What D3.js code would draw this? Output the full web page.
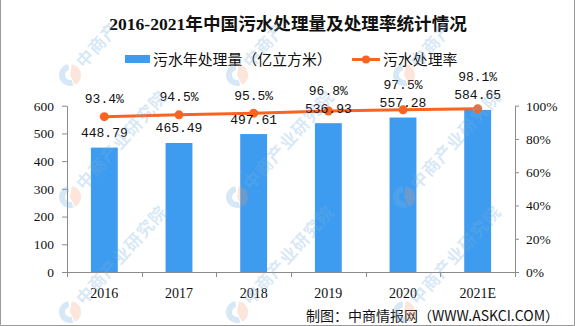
<!DOCTYPE html>
<html>
<head>
<meta charset="utf-8">
<script src="https://cdn.jsdelivr.net/npm/d3@7"></script>
<style>
  html, body { margin: 0; padding: 0; background: #fff; }
  svg { display: block; }
</style>
</head>
<body>
<svg id="chart" width="575" height="326"></svg>
<script>
// Sewage treatment volume (100 million m³) and treatment rate, 2016-2021E
const years = ["2016", "2017", "2018", "2019", "2020", "2021E"];
const volume = [448.79, 465.49, 497.61, 536.93, 557.28, 584.65];
const rate = [93.4, 94.5, 95.5, 96.8, 97.5, 98.1];
const leftTicks = [0, 100, 200, 300, 400, 500, 600];
const rightTicks = [0, 20, 40, 60, 80, 100];

const title = "2016-2021年中国污水处理量及处理率统计情况";
const legendBar = "污水年处理量（亿立方米）";
const legendLine = "污水处理率";
const source = "制图：中商情报网（WWW.ASKCI.COM）";
const watermark = "中商产业研究院";

const W = 575, H = 326;
const margin = { left: 67, right: 60, top: 105.7, bottom: 54 };
const plotR = W - margin.right;
const plotB = H - margin.bottom;

const barColor = "#3d9cef";
const lineColor = "#fa6421";
const axisColor = "#8c8c8c";
const serif = "'Liberation Serif', 'Noto Sans CJK SC', serif";
const mono = "'Liberation Mono', monospace";
const cjk = "'Liberation Serif', 'Noto Sans CJK SC', sans-serif";

const svg = d3.select("#chart");

const x = d3.scaleBand().domain(years).range([margin.left, plotR]).padding(0);
const yL = d3.scaleLinear().domain([0, 600]).range([plotB, margin.top]);
const yR = d3.scaleLinear().domain([0, 100]).range([plotB, margin.top]);
const barW = x.bandwidth() * 0.36;

// frame
svg.append("rect").attr("width", W).attr("height", H).attr("fill", "#fff");
svg.append("path")
  .attr("d", `M0.5,0 V${H - 0.5} H${W - 0.5} V0`)
  .attr("fill", "none").attr("stroke", "#9a9a9a").attr("stroke-width", 1);

// title
svg.append("text")
  .attr("x", 288).attr("y", 30)
  .attr("text-anchor", "middle")
  .attr("font-family", "'Liberation Serif', 'Noto Sans CJK SC', serif")
  .attr("font-weight", "bold").attr("font-size", 17.6)
  .attr("fill", "#111")
  .text(title);

// legend
const lg = svg.append("g");
lg.append("rect").attr("x", 125).attr("y", 55).attr("width", 25).attr("height", 8).attr("fill", barColor);
lg.append("text").attr("x", 153).attr("y", 64.5)
  .attr("font-family", cjk).attr("font-size", 14.9).attr("fill", "#111").text(legendBar);
lg.append("line").attr("x1", 352).attr("x2", 380).attr("y1", 59.5).attr("y2", 59.5)
  .attr("stroke", lineColor).attr("stroke-width", 3);
lg.append("circle").attr("cx", 366).attr("cy", 59.5).attr("r", 4).attr("fill", lineColor);
lg.append("text").attr("x", 383).attr("y", 64.5)
  .attr("font-family", cjk).attr("font-size", 14.9).attr("fill", "#111").text(legendLine);

// bars
svg.append("g").selectAll("rect")
  .data(years)
  .join("rect")
  .attr("x", (d) => x(d) + (x.bandwidth() - barW) / 2)
  .attr("y", (d, i) => yL(volume[i]))
  .attr("width", barW)
  .attr("height", (d, i) => plotB - yL(volume[i]))
  .attr("fill", barColor);

// axes
const styleAxis = (g) => {
  g.select(".domain").attr("stroke", axisColor);
  g.selectAll(".tick line").attr("stroke", axisColor);
  g.selectAll(".tick text").attr("fill", "#111").attr("font-family", serif).attr("font-size", 13.5);
};

svg.append("g")
  .attr("transform", `translate(${margin.left},0)`)
  .call(d3.axisLeft(yL).tickValues(leftTicks).tickSize(5).tickSizeOuter(0).tickPadding(8))
  .call(styleAxis);

svg.append("g")
  .attr("transform", `translate(${plotR},0)`)
  .call(d3.axisRight(yR).tickValues(rightTicks).tickSize(4).tickSizeOuter(0).tickPadding(7)
    .tickFormat((d) => d + "%"))
  .call(styleAxis);

// category axis with ticks on band boundaries
const xAxis = svg.append("g").attr("transform", `translate(0,${plotB})`);
xAxis.append("line").attr("x1", margin.left).attr("x2", plotR)
  .attr("y1", 0.5).attr("y2", 0.5).attr("stroke", axisColor);
xAxis.selectAll("line.bt")
  .data(years.concat(["end"]))
  .join("line").attr("class", "bt")
  .attr("x1", (d, i) => Math.round(margin.left + i * x.step()) + 0.5)
  .attr("x2", (d, i) => Math.round(margin.left + i * x.step()) + 0.5)
  .attr("y1", 0).attr("y2", 5).attr("stroke", axisColor);
xAxis.selectAll("text")
  .data(years)
  .join("text")
  .attr("x", (d) => x(d) + x.bandwidth() / 2)
  .attr("y", 26)
  .attr("text-anchor", "middle")
  .attr("font-family", serif).attr("font-size", 14).attr("fill", "#111")
  .text((d) => d);

// rate line
const pts = years.map((d, i) => [x(d) + x.bandwidth() / 2, yR(rate[i])]);
svg.append("path")
  .attr("d", d3.line()(pts))
  .attr("fill", "none").attr("stroke", lineColor).attr("stroke-width", 3);
svg.append("g").selectAll("circle")
  .data(pts).join("circle")
  .attr("cx", (d) => d[0]).attr("cy", (d) => d[1]).attr("r", 4.5).attr("fill", lineColor);

// value labels: volume above bars, rate above the line (pushed clear of volume labels)
const volLabelCenter = volume.map((v) => yL(v) - 15);
svg.append("g").selectAll("text")
  .data(years).join("text")
  .attr("x", (d) => x(d) + x.bandwidth() / 2)
  .attr("y", (d, i) => volLabelCenter[i] + 4.5)
  .attr("text-anchor", "middle")
  .attr("font-family", mono).attr("font-size", 13).attr("fill", "#111")
  .text((d, i) => volume[i].toFixed(2));

svg.append("g").selectAll("text")
  .data(years).join("text")
  .attr("x", (d) => x(d) + x.bandwidth() / 2)
  .attr("y", (d, i) => Math.min(yR(rate[i]) - 18, volLabelCenter[i] - 18) + 4.5)
  .attr("text-anchor", "middle")
  .attr("font-family", mono).attr("font-size", 13).attr("fill", "#111")
  .text((d, i) => rate[i].toFixed(1) + "%");

// source note
svg.append("text")
  .attr("x", 559).attr("y", 321)
  .attr("text-anchor", "end")
  .attr("font-family", "'Noto Sans CJK SC', sans-serif").attr("font-size", 14).attr("fill", "#111")
  .text(source);

// faint tiled watermark; the top row only carries as much of the mark as fits
const wmX = [70, 237, 404];
const wmY = [75, 197, 312];
const wm = svg.append("g").attr("pointer-events", "none");
wmY.forEach((ty, r) => {
  wmX.forEach((tx) => {
    const g = wm.append("g").attr("transform", `translate(${tx},${ty})`);
    g.append("path")
      .attr("d", d3.arc().innerRadius(5).outerRadius(11).startAngle(Math.PI * 0.9).endAngle(Math.PI * 1.95)())
      .attr("fill", "rgba(120,175,225,0.3)");
    g.append("path")
      .attr("d", d3.arc().innerRadius(0).outerRadius(11).startAngle(Math.PI * 0.05).endAngle(Math.PI * 0.85)())
      .attr("fill", "rgba(245,150,110,0.25)");
    g.append("text")
      .attr("transform", "translate(14,-6) rotate(-48)")
      .attr("font-family", "'Noto Sans CJK SC', sans-serif")
      .attr("font-size", 17).attr("font-weight", "bold")
      .attr("letter-spacing", 1)
      .attr("fill", "rgba(120,175,225,0.3)")
      .text(r === 0 ? watermark.slice(0, 3) : watermark);
  });
});
</script>
</body>
</html>
